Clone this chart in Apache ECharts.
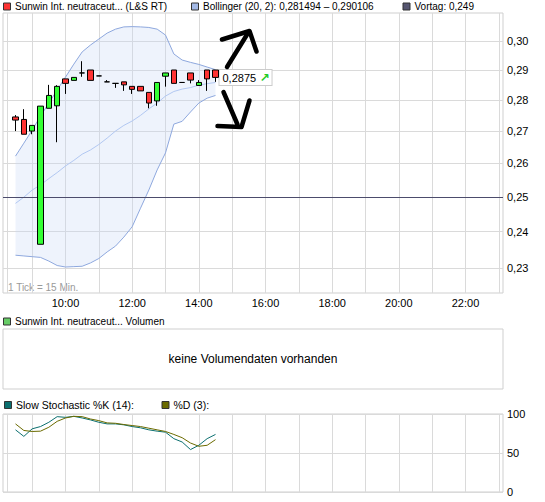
<!DOCTYPE html>
<html>
<head>
<meta charset="utf-8">
<script src="https://cdn.jsdelivr.net/npm/echarts@6/dist/echarts.min.js"></script>
<style>
  html, body { margin: 0; padding: 0; background: #fff; }
  #chart { width: 545px; height: 502px; }
</style>
</head>
<body>
<div id="chart"></div>
<script>
// 15-minute candles, Sunwin Int. neutraceuticals (L&S RT)
const candleTimes = ['8:30', '8:45', '9:00', '9:15', '9:30', '9:45', '10:00', '10:15', '10:30', '10:45',
  '11:00', '11:15', '11:30', '11:45', '12:00', '12:15', '12:30', '12:45', '13:00', '13:15',
  '13:30', '13:45', '14:00', '14:15', '14:30'];
const openPrices  = [0.2745, 0.2737, 0.2700, 0.2365, 0.2773, 0.2781, 0.2870, 0.2865, 0.2890, 0.2900,
  0.2880, 0.2860, 0.2855, 0.2860, 0.2845, 0.2845, 0.2825, 0.2797, 0.2879, 0.2900,
  0.2858, 0.2890, 0.2848, 0.2900, 0.2900];
const closePrices = [0.2735, 0.2690, 0.2718, 0.2780, 0.2815, 0.2845, 0.2855, 0.2875, 0.2890, 0.2865,
  0.2880, 0.2860, 0.2855, 0.2850, 0.2835, 0.2830, 0.2790, 0.2858, 0.2890, 0.2855,
  0.2858, 0.2866, 0.2858, 0.2870, 0.2875];
const lowPrices   = [0.2700, 0.2690, 0.2690, 0.2365, 0.2773, 0.2665, 0.2820, 0.2865, 0.2877, 0.2865,
  0.2880, 0.2860, 0.2840, 0.2830, 0.2820, 0.2830, 0.2773, 0.2781, 0.2844, 0.2855,
  0.2858, 0.2855, 0.2848, 0.2830, 0.2860];
const highPrices  = [0.2751, 0.2770, 0.2718, 0.2780, 0.2850, 0.2849, 0.2870, 0.2875, 0.2930, 0.2900,
  0.2880, 0.2866, 0.2855, 0.2860, 0.2845, 0.2845, 0.2825, 0.2858, 0.2890, 0.2900,
  0.2858, 0.2890, 0.2866, 0.2900, 0.2900];

// Bollinger (20, 2)
const bollUpper  = [0.2622, 0.2662, 0.2703, 0.2748, 0.2790, 0.2833, 0.2876, 0.2920, 0.2962, 0.2986,
  0.3007, 0.3028, 0.3042, 0.3050, 0.3051, 0.3050, 0.3048, 0.3042, 0.3021, 0.2955,
  0.2934, 0.2926, 0.2919, 0.2910, 0.290106];
const bollMiddle = [0.2481, 0.2499, 0.2520, 0.2535, 0.2554, 0.2572, 0.2592, 0.2609, 0.2628, 0.2641,
  0.2658, 0.2678, 0.2700, 0.2718, 0.2732, 0.2750, 0.2771, 0.2790, 0.2813, 0.2828,
  0.2836, 0.2841, 0.2849, 0.2854, 0.2858];
const bollLower  = [0.2335, 0.2333, 0.2331, 0.2329, 0.2319, 0.2307, 0.2303, 0.2304, 0.2305, 0.2314,
  0.2326, 0.2344, 0.2360, 0.2385, 0.2414, 0.2467, 0.2520, 0.2580, 0.2632, 0.2722,
  0.2731, 0.2761, 0.2790, 0.2806, 0.281494];

// Slow Stochastic %K (14) and %D (3)
const stochK = [79.7, 71.3, 81.0, 83.9, 89.4, 96.6, 95.7, 97.0, 94.9, 92.4,
  89.4, 87.3, 87.3, 86.1, 83.9, 82.3, 79.7, 78.0, 76.7, 68.4,
  64.1, 54.4, 59.9, 68.4, 73.8];
const stochD = [87.3, 78.9, 77.6, 78.0, 83.0, 90.6, 94.9, 97.0, 96.6, 93.6,
  91.5, 88.6, 88.1, 86.5, 85.2, 83.9, 81.8, 79.7, 77.6, 73.8,
  69.6, 62.8, 58.6, 59.9, 67.1];

const previousClose = 0.249;
const priceTicks = [0.23, 0.24, 0.25, 0.26, 0.27, 0.28, 0.29, 0.30];

// 15-minute slots of the trading day axis
const slotTimes = [];
for (let m = 8 * 60 + 15; m <= 23 * 60; m += 15) {
  slotTimes.push(Math.floor(m / 60) + ':' + String(m % 60).padStart(2, '0'));
}

const FONT = '"Liberation Sans", Arial, sans-serif';
const GRID_COLOR = '#dadada';
const FRAME_COLOR = '#cfcfcf';
const fmt = (v, d) => v.toFixed(d).replace('.', ',');
const isHour = t => t.endsWith(':00');
const hourOf = t => parseInt(t, 10);

const pairs = arr => candleTimes.map((t, i) => [t, arr[i]]);
const candles = candleTimes.map((t, i) => [t, openPrices[i], closePrices[i], lowPrices[i], highPrices[i]]);
const bandWidth = candleTimes.map((t, i) => [t, bollUpper[i] - bollLower[i]]);
const lastIdx = candleTimes.length - 1;
const lastClose = closePrices[lastIdx];

function timeAxis(gridIndex, showLabels) {
  return {
    type: 'category',
    gridIndex,
    data: slotTimes,
    boundaryGap: true,
    axisLine: { show: false },
    axisTick: { show: false },
    axisLabel: {
      show: showLabels,
      interval: (i, v) => isHour(v) && hourOf(v) % 2 === 0,
      color: '#000',
      fontSize: 11,
      fontFamily: FONT,
      margin: 4
    },
    splitLine: {
      show: gridIndex !== 1,
      alignWithLabel: true,
      interval: (i, v) => i === 0 || isHour(v),
      lineStyle: { color: GRID_COLOR, width: 1 }
    }
  };
}

function legendItem(x, y, color, label, size) {
  return [
    { type: 'rect', shape: { x: x, y: y - 3.5, width: 7, height: 7 },
      style: { fill: color, stroke: '#333', lineWidth: 1 } },
    { type: 'text', x: x + 11.5, y: y,
      style: { text: label, fill: '#000', font: size + 'px ' + FONT, verticalAlign: 'middle' } }
  ];
}

const chart = echarts.init(document.getElementById('chart'), null, { renderer: 'svg' });

const option = {
  animation: false,
  backgroundColor: '#fff',
  grid: [
    { left: 3, top: 13, width: 500, height: 280, show: true, borderColor: FRAME_COLOR, outerBoundsMode: 'none' },
    { left: 3, top: 329, width: 500, height: 60, show: true, borderColor: FRAME_COLOR, outerBoundsMode: 'none' },
    { left: 3, top: 414, width: 500, height: 78, show: true, borderColor: FRAME_COLOR, outerBoundsMode: 'none' }
  ],
  xAxis: [timeAxis(0, true), Object.assign(timeAxis(1, false), { show: false }), timeAxis(2, false)],
  yAxis: [
    {
      type: 'log', logBase: 10, gridIndex: 0, position: 'right',
      min: 0.2234, max: 0.31,
      axisLine: { show: false },
      axisTick: { show: false, customValues: priceTicks },
      axisLabel: { customValues: priceTicks, formatter: v => fmt(v, 2), color: '#000', fontSize: 11, fontFamily: FONT, margin: 4 },
      splitLine: { show: true, lineStyle: { color: priceTicks.map(v => v === 0.25 ? 'rgba(0,0,0,0)' : GRID_COLOR) } }
    },
    { type: 'value', gridIndex: 1, show: false, splitLine: { show: false } },
    {
      type: 'value', gridIndex: 2, position: 'right', min: 0, max: 100, interval: 50,
      axisLine: { show: false },
      axisTick: { show: false },
      axisLabel: { color: '#000', fontSize: 11, fontFamily: FONT, margin: 4 },
      splitLine: { show: true, lineStyle: { color: GRID_COLOR } }
    }
  ],
  series: [
    {
      name: 'bollLower', type: 'line', xAxisIndex: 0, yAxisIndex: 0,
      data: pairs(bollLower), stack: 'boll', symbol: 'none', silent: true,
      lineStyle: { color: '#8ea8de', width: 1 }, z: 2
    },
    {
      name: 'bollBand', type: 'line', xAxisIndex: 0, yAxisIndex: 0,
      data: bandWidth, stack: 'boll', symbol: 'none', silent: true,
      lineStyle: { color: '#8ea8de', width: 1 },
      areaStyle: { color: 'rgba(196,214,244,0.42)' }, z: 2
    },
    {
      name: 'bollMiddle', type: 'line', xAxisIndex: 0, yAxisIndex: 0,
      data: pairs(bollMiddle), symbol: 'none', silent: true,
      lineStyle: { color: '#b2c8f2', width: 1 }, z: 3
    },
    {
      name: 'Sunwin', type: 'candlestick', xAxisIndex: 0, yAxisIndex: 0,
      data: candles, encode: { x: 0, y: [1, 2, 3, 4] },
      barWidth: 6,
      itemStyle: {
        color: '#33ff33', color0: '#ff3333',
        borderColor: '#000', borderColor0: '#000', borderColorDoji: '#000', borderWidth: 1
      },
      z: 5,
      markLine: {
        silent: true, symbol: ['none', 'none'], label: { show: false },
        lineStyle: { color: '#4c4c6c', width: 1, type: 'solid' },
        data: [{ yAxis: previousClose }]
      },
      markPoint: {
        silent: true,
        data: [{
          coord: [candleTimes[lastIdx], lastClose],
          symbol: 'rect', symbolSize: 0,
          label: {
            show: true, position: 'right', distance: 4,
            formatter: '{v|' + fmt(lastClose, 4) + '} {a|\u2197}',
            backgroundColor: '#fff', borderColor: '#cccccc', borderWidth: 1,
            padding: [2, 2, 1, 3],
            rich: {
              v: { color: '#000', fontSize: 11, fontFamily: FONT },
              a: { color: '#22cc22', fontSize: 12, fontWeight: 'bold', fontFamily: '"DejaVu Sans", sans-serif' }
            }
          }
        }]
      }
    },
    {
      name: '%K', type: 'line', xAxisIndex: 2, yAxisIndex: 2,
      data: pairs(stochK), symbol: 'none', silent: true,
      lineStyle: { color: '#0b6f6f', width: 1 }
    },
    {
      name: '%D', type: 'line', xAxisIndex: 2, yAxisIndex: 2,
      data: pairs(stochD), symbol: 'none', silent: true,
      lineStyle: { color: '#6b6b00', width: 1 }
    }
  ],
  graphic: [
    ...legendItem(3.5, 6.5, '#ff3333', 'Sunwin Int. neutraceut... (L&S RT)', 10),
    ...legendItem(191.5, 6.5, '#a3b9e6', 'Bollinger (20, 2): ' + fmt(bollLower[lastIdx], 6) + ' \u2013 ' + fmt(bollUpper[lastIdx], 6), 10),
    ...legendItem(403, 6.5, '#555570', 'Vortag: ' + fmt(previousClose, 3), 10),
    ...legendItem(3.5, 321.5, '#66cc66', 'Sunwin Int. neutraceut... Volumen', 10),
    ...legendItem(4.5, 405, '#0b6f6f', 'Slow Stochastic %K (14):', 10.5),
    ...legendItem(162, 405, '#6b6b00', '%D (3):', 10.5),
    { type: 'text', x: 8, y: 287, style: { text: '1 Tick = 15 Min.', fill: '#9a9a9a', font: '10px ' + FONT, verticalAlign: 'middle' } },
    { type: 'text', x: 253, y: 359, style: { text: 'keine Volumendaten vorhanden', fill: '#000', font: '12px ' + FONT, align: 'center', verticalAlign: 'middle' } },
    // hand-drawn annotation arrows
    { type: 'polyline', shape: { points: [[227, 67], [248, 33]] },
      style: { stroke: '#000', lineWidth: 4.5, lineCap: 'round', lineJoin: 'round', fill: null }, z: 100 },
    { type: 'polyline', shape: { points: [[222, 39.5], [249.5, 31], [256.5, 51.5]] },
      style: { stroke: '#000', lineWidth: 4.5, lineCap: 'round', lineJoin: 'round', fill: null }, z: 100 },
    { type: 'polyline', shape: { points: [[223.5, 92], [237.5, 124.5]] },
      style: { stroke: '#000', lineWidth: 4.5, lineCap: 'round', lineJoin: 'round', fill: null }, z: 100 },
    { type: 'polyline', shape: { points: [[217.5, 126], [241.5, 127], [249.5, 100.5]] },
      style: { stroke: '#000', lineWidth: 4.5, lineCap: 'round', lineJoin: 'round', fill: null }, z: 100 }
  ]
};

chart.setOption(option);
</script>
</body>
</html>
